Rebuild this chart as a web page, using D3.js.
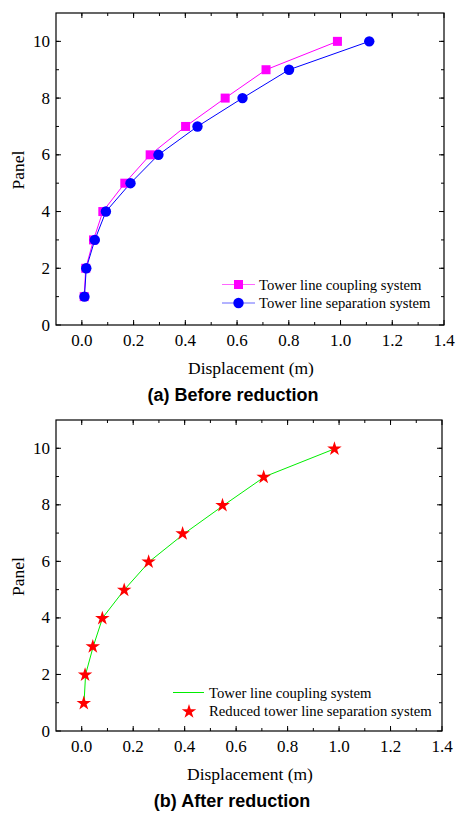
<!DOCTYPE html>
<html>
<head>
<meta charset="utf-8">
<script src="https://cdn.jsdelivr.net/npm/d3@7"></script>
<style>
  body { margin: 0; background: #fff; }
  svg { display: block; }
</style>
</head>
<body>
<div class="chart"></div>
<script>
var width = 456, height = 813;

// data
var panels = [1, 2, 3, 4, 5, 6, 7, 8, 9, 10];
var couplingDisp = [0.009, 0.015, 0.045, 0.081, 0.166, 0.264, 0.401, 0.554, 0.712, 0.988];
var separationDisp = [0.010, 0.017, 0.050, 0.093, 0.188, 0.296, 0.447, 0.621, 0.801, 1.111];
var reducedDisp = [0.008, 0.013, 0.043, 0.080, 0.165, 0.260, 0.392, 0.547, 0.707, 0.982];

var xTicks = [0.0, 0.2, 0.4, 0.6, 0.8, 1.0, 1.2, 1.4];
var yTicks = [0, 2, 4, 6, 8, 10];

var serif = "'Liberation Serif', 'Times New Roman', serif";
var sans = "'Liberation Sans', Arial, sans-serif";

var svg = d3.select('.chart').append('svg')
  .attr('width', width)
  .attr('height', height);

function zip(xs) {
  return xs.map(function (v, i) { return { x: v, y: panels[i] }; });
}

function drawPanel(box, caption) {
  var x = d3.scaleLinear().domain([-0.1, 1.4]).range([box.left, box.right]);
  var y = d3.scaleLinear().domain([0, 11]).range([box.bottom, box.top]);
  var g = svg.append('g');

  var xMinor = d3.range(-0.1, 1.41, 0.1).map(function (d) { return +d.toFixed(1); })
    .filter(function (d) { return d > -0.1 && d < 1.4; });
  var yMinor = d3.range(1, 11, 1);

  // inward ticks on all four sides
  function ticks(vals, len) {
    vals.forEach(function (v) {
      g.append('line').attr('x1', x(v)).attr('x2', x(v))
        .attr('y1', box.bottom).attr('y2', box.bottom - len);
      g.append('line').attr('x1', x(v)).attr('x2', x(v))
        .attr('y1', box.top).attr('y2', box.top + len);
    });
  }
  ticks(xMinor, 3);
  ticks(xTicks, 5);
  function yticks(vals, len) {
    vals.forEach(function (v) {
      g.append('line').attr('y1', y(v)).attr('y2', y(v))
        .attr('x1', box.left).attr('x2', box.left + len);
      g.append('line').attr('y1', y(v)).attr('y2', y(v))
        .attr('x1', box.right).attr('x2', box.right - len);
    });
  }
  yticks(yMinor, 3);
  yticks(yTicks, 5);
  g.selectAll('line').attr('stroke', '#000').attr('stroke-width', 1);

  g.append('rect')
    .attr('x', box.left).attr('y', box.top)
    .attr('width', box.right - box.left).attr('height', box.bottom - box.top)
    .attr('fill', 'none').attr('stroke', '#000').attr('stroke-width', 1.2);

  g.selectAll('.xl').data(xTicks).enter().append('text')
    .attr('x', function (d) { return x(d); })
    .attr('y', box.bottom + 21)
    .attr('text-anchor', 'middle')
    .style('font-family', serif).style('font-size', '17px')
    .text(function (d) { return d.toFixed(1); });

  g.selectAll('.yl').data(yTicks).enter().append('text')
    .attr('x', box.left - 6)
    .attr('y', function (d) { return y(d) + 5.5; })
    .attr('text-anchor', 'end')
    .style('font-family', serif).style('font-size', '17px')
    .text(function (d) { return d; });

  g.append('text')
    .attr('x', (box.left + box.right) / 2 + 1)
    .attr('y', box.bottom + 49)
    .attr('text-anchor', 'middle')
    .style('font-family', serif).style('font-size', '17.5px')
    .text('Displacement (m)');

  g.append('text')
    .attr('transform', 'translate(24,' + ((box.top + box.bottom) / 2 + 1) + ')rotate(-90)')
    .attr('text-anchor', 'middle')
    .style('font-family', serif).style('font-size', '17.5px')
    .text('Panel');

  g.append('text')
    .attr('x', (box.left + box.right) / 2 - 17)
    .attr('y', box.bottom + 76)
    .attr('text-anchor', 'middle')
    .style('font-family', sans).style('font-size', '18px').style('font-weight', 'bold')
    .text(caption);

  return { g: g, x: x, y: y };
}

var line = function (p) {
  return d3.line().x(function (d) { return p.x(d.x); }).y(function (d) { return p.y(d.y); });
};

function legendText(g, tx, ty, txt) {
  g.append('text').attr('x', tx).attr('y', ty + 5)
    .style('font-family', serif).style('font-size', '14.7px')
    .text(txt);
}

// (a) Before reduction
var pa = drawPanel({ left: 56, right: 444, top: 13, bottom: 325 }, '(a) Before reduction');

pa.g.append('path').datum(zip(couplingDisp))
  .attr('d', line(pa)).attr('fill', 'none')
  .attr('stroke', '#ff00ff').attr('stroke-width', 1);
pa.g.append('path').datum(zip(separationDisp))
  .attr('d', line(pa)).attr('fill', 'none')
  .attr('stroke', '#0000ff').attr('stroke-width', 1);

pa.g.selectAll('.sq').data(zip(couplingDisp)).enter().append('rect')
  .attr('x', function (d) { return pa.x(d.x) - 4.5; })
  .attr('y', function (d) { return pa.y(d.y) - 4.5; })
  .attr('width', 9).attr('height', 9)
  .attr('fill', '#ff00ff');
pa.g.selectAll('.ci').data(zip(separationDisp)).enter().append('circle')
  .attr('cx', function (d) { return pa.x(d.x); })
  .attr('cy', function (d) { return pa.y(d.y); })
  .attr('r', 5.2)
  .attr('fill', '#0000ff');

// legend a
var la = pa.g.append('g');
la.append('line').attr('x1', 222).attr('x2', 255).attr('y1', 284.5).attr('y2', 284.5)
  .attr('stroke', '#ff66ff').attr('stroke-width', 1);
la.append('rect').attr('x', 234).attr('y', 280).attr('width', 9).attr('height', 9).attr('fill', '#ff00ff');
legendText(la, 259, 284.5, 'Tower line coupling system');
la.append('line').attr('x1', 222).attr('x2', 255).attr('y1', 303).attr('y2', 303)
  .attr('stroke', '#6666ff').attr('stroke-width', 1);
la.append('circle').attr('cx', 238.5).attr('cy', 303).attr('r', 5.2).attr('fill', '#0000ff');
legendText(la, 259, 303, 'Tower line separation system');

// (b) After reduction
var pb = drawPanel({ left: 56, right: 442, top: 420, bottom: 731 }, '(b) After reduction');

pb.g.append('path').datum(zip(couplingDisp))
  .attr('d', line(pb)).attr('fill', 'none')
  .attr('stroke', '#00ee00').attr('stroke-width', 1);

var star = d3.symbol().type(d3.symbolStar).size(65);
pb.g.selectAll('.st').data(zip(reducedDisp)).enter().append('path')
  .attr('d', star)
  .attr('transform', function (d) { return 'translate(' + pb.x(d.x) + ',' + (pb.y(d.y) + 0.5) + ')'; })
  .attr('fill', '#ff0000');

// legend b
var lb = pb.g.append('g');
lb.append('line').attr('x1', 173).attr('x2', 204).attr('y1', 692.5).attr('y2', 692.5)
  .attr('stroke', '#00ee00').attr('stroke-width', 1);
legendText(lb, 209, 692.5, 'Tower line coupling system');
lb.append('path').attr('d', star).attr('transform', 'translate(189,711.5)').attr('fill', '#ff0000');
legendText(lb, 209, 711, 'Reduced tower line separation system');
</script>
</body>
</html>
